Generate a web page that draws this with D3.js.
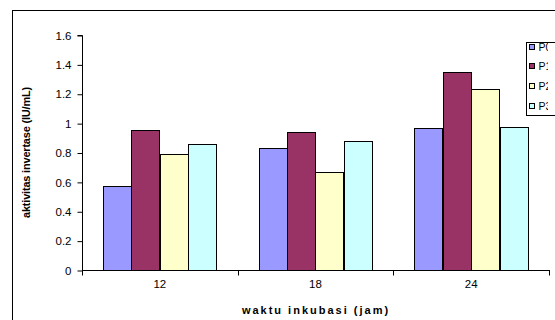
<!DOCTYPE html>
<html><head><meta charset="utf-8">
<script src="https://cdn.jsdelivr.net/npm/d3@7"></script>
<style>body{margin:0;background:#fff;} svg{display:block;font-family:"Liberation Sans",Arial,sans-serif;}</style>
</head><body>
<script>
const categories = ["12","18","24"];
const seriesNames = ["P0","P1","P2","P3"];
const P0 = [0.57, 0.83, 0.97];
const P1 = [0.955, 0.94, 1.345];
const P2 = [0.79, 0.67, 1.234];
const P3 = [0.86, 0.876, 0.976];
const yTicks = [0, 0.2, 0.4, 0.6, 0.8, 1, 1.2, 1.4, 1.6];
const colors = ["#9999FF", "#993366", "#FFFFCC", "#CCFFFF"];
const seriesValues = [P0, P1, P2, P3];

(function () {
const W = 555, H = 320;
const svg = d3.select("body").append("svg").attr("width", W).attr("height", H);

// outer frame
svg.append("rect").attr("x", 12.5).attr("y", 10.5).attr("width", 600).attr("height", 400)
  .attr("fill", "none").attr("stroke", "#000").attr("stroke-width", 1);

const pLeft = 82, pRight = 549, pTop = 35, pBottom = 270;
const x = d3.scaleBand().domain(categories).range([pLeft, pRight]).paddingInner(0.268).paddingOuter(0.134);
const xs = d3.scaleBand().domain(seriesNames).range([0, x.bandwidth()]);
const y = d3.scaleLinear().domain([0, 1.6]).range([pBottom, pTop]);

// bars
categories.forEach((c, i) => {
  seriesNames.forEach((s, j) => {
    const v = seriesValues[j][i];
    svg.append("rect")
      .attr("x", Math.round(x(c) + xs(s)) + 0.5)
      .attr("y", Math.round(y(v)) + 0.5)
      .attr("width", Math.round(xs.bandwidth()))
      .attr("height", Math.round(y(0)) - Math.round(y(v)))
      .attr("fill", colors[j]).attr("stroke", "#000").attr("stroke-width", 1);
  });
});

// y axis
const yAxis = d3.axisLeft(y).tickValues(yTicks).tickSize(5).tickPadding(6)
  .tickFormat(d => d3.format("")(d));
const gy = svg.append("g").attr("transform", `translate(${pLeft + 0.5},0.5)`).call(yAxis);
gy.select(".domain").attr("d", `M-5,${y(1.6)}H0V${y(0)}`);
gy.selectAll("text").attr("font-size", 11.5).attr("fill", "#000").attr("font-family", "Liberation Sans, Arial, sans-serif");

// x axis
const gx = svg.append("g").attr("transform", `translate(0,${pBottom + 0.5})`);
gx.append("line").attr("x1", pLeft).attr("x2", pRight + 1).attr("y1", 0).attr("y2", 0).attr("stroke", "#000");
const boundaries = d3.range(categories.length + 1).map(k => pLeft + k * x.step());
gx.selectAll(".bt").data(boundaries).enter().append("line")
  .attr("x1", d => Math.round(d) + 0.5).attr("x2", d => Math.round(d) + 0.5)
  .attr("y1", 0).attr("y2", 5).attr("stroke", "#000");
gx.selectAll(".lbl").data(categories).enter().append("text")
  .attr("x", d => x(d) + x.bandwidth() / 2).attr("y", 17)
  .attr("text-anchor", "middle").attr("font-size", 11.5).text(d => d);

// axis titles
svg.append("text").attr("x", 316).attr("y", 314).attr("text-anchor", "middle")
  .attr("font-size", 11).attr("font-weight", "bold").attr("letter-spacing", 2)
  .text("waktu inkubasi (jam)");
svg.append("text").attr("transform", `translate(30,${(pTop + pBottom) / 2}) rotate(-90)`)
  .attr("text-anchor", "middle").attr("font-size", 11).attr("font-weight", "bold")
  .attr("letter-spacing", -0.2)
  .text("aktivitas invertase (IU/mL)");

// legend
svg.append("clipPath").attr("id", "lgclip").append("rect")
  .attr("x", 0).attr("y", 0).attr("width", 548).attr("height", H);
const lg = svg.append("g");
lg.append("rect").attr("x", 526.5).attr("y", 42.5).attr("width", 60).attr("height", 73)
  .attr("fill", "#fff").attr("stroke", "#000");
const ly = [47, 66, 86, 106];
seriesNames.forEach((s, j) => {
  lg.append("rect").attr("x", 529.5).attr("y", ly[j] - 2.5).attr("width", 5).attr("height", 5)
    .attr("fill", colors[j]).attr("stroke", "#000");
  lg.append("text").attr("x", 538.5).attr("y", ly[j] + 4).attr("font-size", 10.5)
    .attr("clip-path", "url(#lgclip)").text(s);
});
})();
</script>
</body></html>
